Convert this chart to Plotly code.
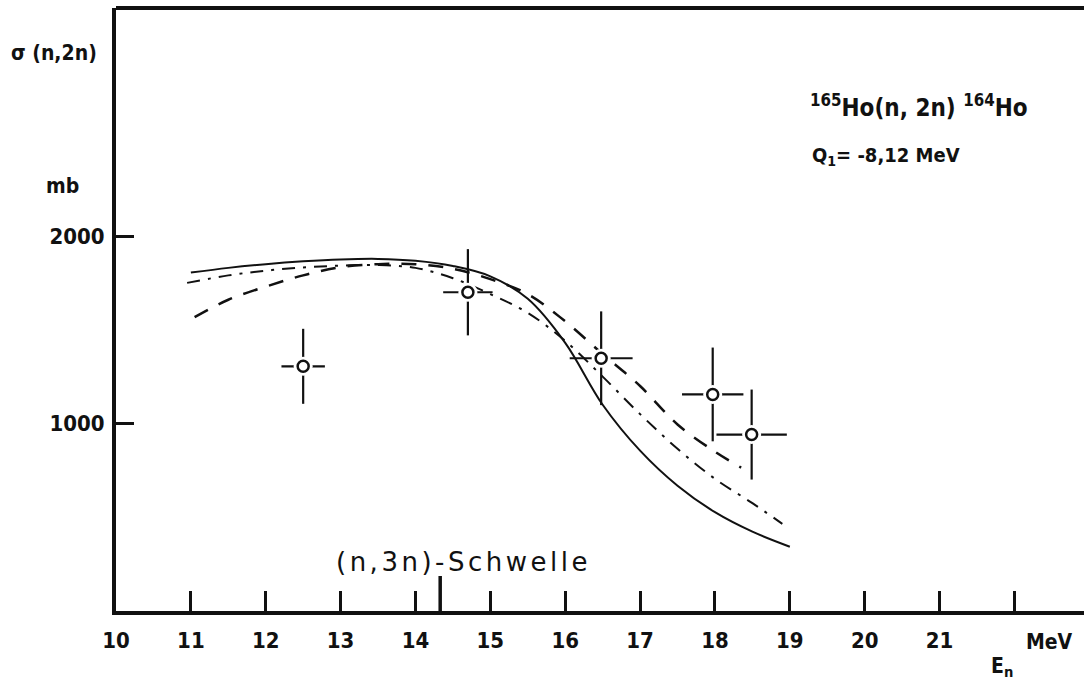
import plotly.graph_objects as go

# ---------------- data ----------------
# experimental points (E in MeV, sigma in mb) with errors
exp_E = [12.5, 14.7, 16.48, 17.97, 18.49]
exp_sigma = [1305, 1700, 1348, 1155, 941]
exp_dE = [0.29, 0.33, 0.42, 0.41, 0.47]
exp_dsigma = [200, 230, 250, 250, 240]

# theoretical curves
solid_E = [11.0, 11.5, 12.0, 12.5, 13.0, 13.5, 14.0, 14.5, 15.0, 15.5, 16.0, 16.5, 17.0, 17.5, 18.0, 18.5, 19.0]
solid_sigma = [1805, 1830, 1850, 1865, 1875, 1878, 1868, 1840, 1785, 1665, 1430, 1100, 855, 668, 527, 423, 343]

dashdot_E = [10.95, 11.5, 12.0, 12.5, 13.0, 13.5, 14.0, 14.5, 15.0, 15.5, 16.0, 16.5, 17.0, 17.5, 18.0, 18.5, 18.9]
dashdot_sigma = [1750, 1790, 1815, 1832, 1842, 1845, 1830, 1775, 1690, 1590, 1440, 1250, 1050, 865, 705, 575, 465]

dash_E = [11.05, 11.5, 12.0, 12.5, 13.0, 13.5, 14.0, 14.5, 15.0, 15.5, 16.0, 16.5, 17.0, 17.5, 18.0, 18.35]
dash_sigma = [1567, 1660, 1730, 1790, 1834, 1850, 1850, 1825, 1770, 1690, 1545, 1370, 1200, 995, 850, 765]

x_tickvals = [10, 11, 12, 13, 14, 15, 16, 17, 18, 19, 20, 21, 22]
x_ticktext = ["10", "11", "12", "13", "14", "15", "16", "17", "18", "19", "20", "21", ""]
y_tickvals = [1000, 2000]
y_ticktext = ["1000", "2000"]

n3n_threshold = 14.33  # (n,3n)-Schwelle

# ---------------- layout geometry ----------------
W, H = 1084, 686
L, R, T, B = 116, 0, 8, 75
PW, PH = W - L - R, H - T - B


def px(xp):
    return (xp - L) / PW


def py(yp):
    return (H - B - yp) / PH


INK = "#111111"
COND = "DejaVu Sans Condensed"

fig = go.Figure()

fig.add_trace(go.Scatter(x=solid_E, y=solid_sigma, mode="lines", line_shape="spline",
                         line=dict(color=INK, width=2), showlegend=False, hoverinfo="skip"))
fig.add_trace(go.Scatter(x=dashdot_E, y=dashdot_sigma, mode="lines", line_shape="spline",
                         line=dict(color=INK, width=2, dash="13px,8px,3px,8px"),
                         showlegend=False, hoverinfo="skip"))
fig.add_trace(go.Scatter(x=dash_E, y=dash_sigma, mode="lines", line_shape="spline",
                         line=dict(color=INK, width=2.5, dash="15px,12px"),
                         showlegend=False, hoverinfo="skip"))

# error bars
fig.add_trace(go.Scatter(
    x=exp_E, y=exp_sigma, mode="markers",
    marker=dict(size=1, color="rgba(0,0,0,0)"),
    error_x=dict(type="data", array=exp_dE, visible=True, color=INK, thickness=2.2, width=0),
    error_y=dict(type="data", array=exp_dsigma, visible=True, color=INK, thickness=2.2, width=0),
    showlegend=False, hoverinfo="skip"))
# white gap around circles
fig.add_trace(go.Scatter(x=exp_E, y=exp_sigma, mode="markers",
                         marker=dict(size=19, color="white", line=dict(width=0)),
                         showlegend=False, hoverinfo="skip"))
# open circles
fig.add_trace(go.Scatter(x=exp_E, y=exp_sigma, mode="markers",
                         marker=dict(size=11, color="white", line=dict(width=2.5, color=INK)),
                         showlegend=False, hoverinfo="skip"))

fig.update_layout(
    width=W, height=H,
    margin=dict(l=L, r=R, t=T, b=B, pad=0),
    paper_bgcolor="white", plot_bgcolor="white",
    font=dict(family="DejaVu Sans", color=INK),
    xaxis=dict(range=[10, 10 + PW / 74.87], tickmode="array", tickvals=x_tickvals, ticktext=x_ticktext,
               ticks="inside", ticklen=20, tickwidth=2.5, tickcolor=INK,
               showline=True, linewidth=4, linecolor=INK, showgrid=False, zeroline=False,
               tickfont=dict(family=COND, size=22, weight="bold", color=INK),
               ticklabelstandoff=7),
    yaxis=dict(range=[0, PH / 0.1875], tickmode="array", tickvals=y_tickvals, ticktext=y_ticktext,
               ticks="inside", ticklen=18, tickwidth=2.5, tickcolor=INK,
               showline=True, linewidth=4, linecolor=INK, showgrid=False, zeroline=False,
               tickfont=dict(family=COND, size=22, weight="bold", color=INK),
               ticklabelstandoff=3),
)

# top frame line
fig.add_shape(type="line", xref="paper", yref="paper", x0=0, x1=1, y0=1, y1=1,
              line=dict(color=INK, width=4))
# (n,3n) threshold tick
fig.add_shape(type="line", xref="x", yref="paper", x0=n3n_threshold, x1=n3n_threshold,
              y0=0, y1=35 / PH, line=dict(color=INK, width=3.5))

ann = [
    dict(text="σ (n,2n)", x=px(9), y=py(53), xanchor="left", yanchor="middle",
         font=dict(family=COND, size=21, weight="bold")),
    dict(text="mb", x=px(44), y=py(186), xanchor="left", yanchor="middle",
         font=dict(family=COND, size=21, weight="bold")),
    dict(text="<sup>165</sup>Ho(n, 2n) <sup>164</sup>Ho", x=px(808), y=py(106), xanchor="left",
         yanchor="middle", font=dict(family=COND, size=24, weight="bold")),
    dict(text="Q<sub>1</sub>= -8,12 MeV", x=px(810), y=py(156), xanchor="left", yanchor="middle",
         font=dict(family=COND, size=20, weight="bold")),
    dict(text='<span style="letter-spacing:3.5px">(n,3n)-Schwelle</span>', x=px(334), y=py(562),
         xanchor="left", yanchor="middle", font=dict(family="DejaVu Sans", size=26)),
    dict(text="MeV", x=px(1024), y=py(642), xanchor="left", yanchor="middle",
         font=dict(family=COND, size=21, weight="bold")),
    dict(text="E<sub>n</sub>", x=px(989), y=py(667), xanchor="left", yanchor="middle",
         font=dict(family=COND, size=21, weight="bold")),
]
for a in ann:
    fig.add_annotation(xref="paper", yref="paper", showarrow=False, **a)

fig.write_html("out.html")
